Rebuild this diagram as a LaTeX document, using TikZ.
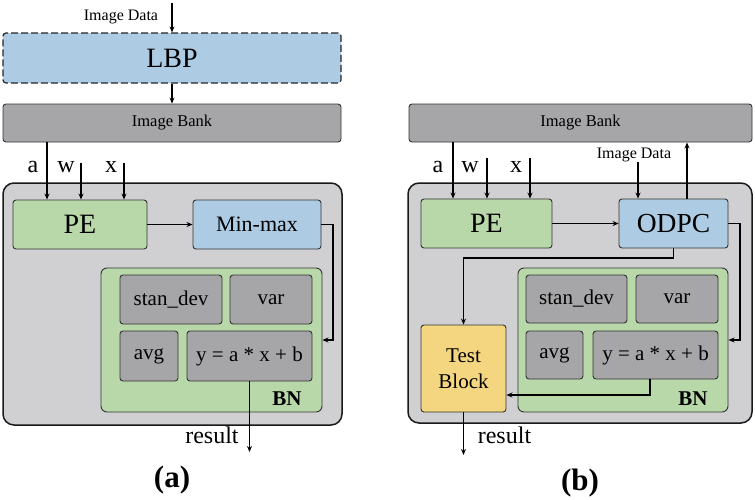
\documentclass[tikz,border=0pt]{standalone}
\usepackage{fontspec}
\setmainfont{Liberation Serif}
\usetikzlibrary{arrows.meta}
\definecolor{cblue}{HTML}{ADCBE3}
\definecolor{cgreen}{HTML}{B8D8A9}
\definecolor{couter}{HTML}{D0D0D2}
\definecolor{cgray}{HTML}{A6A5A7}
\definecolor{cyellow}{HTML}{F4D681}
\definecolor{cline}{HTML}{333333}
\newcommand{\fs}[1]{\fontsize{#1}{#1}\selectfont}
\tikzset{
  box/.style={draw=cline, line width=0.9pt, rounded corners=3pt, inner sep=0pt, align=center},
  outerbox/.style={draw=black!90, fill=couter, line width=1.5pt, rounded corners=11pt, inner sep=0pt},
  arr/.style={line width=1.6pt, -{Stealth[length=6pt,width=5pt]}},
  lbl/.style={inner sep=0pt, anchor=base},
  big/.style={font=\fs{28}},
  mid/.style={font=\fs{21}},
}
\begin{document}
\begin{tikzpicture}[x=1pt,y=-1pt]
\useasboundingbox (0,0) rectangle (755,499);
% ---------------- (a) ----------------
\node[outerbox, minimum width=339pt, minimum height=242pt] (outerA) at (172.5,304) {};
\node[box, fill=cblue, draw=black!85, dashed, dash pattern=on 7pt off 3pt, line width=1.2pt, minimum width=338pt, minimum height=50pt, big] (lbp) at (172,58) {LBP};
\node[box, fill=cgray, minimum width=338pt, minimum height=38pt, font=\fs{16.5}] (bankA) at (172,123) {Image Bank};
\node[box, fill=cgreen, minimum width=134pt, minimum height=49pt, big] (peA) at (80,224.5) {PE};
\node[box, fill=cblue, minimum width=128pt, minimum height=49pt, font=\fs{22}] (mmA) at (257,224.5) {Min-max};
\node[box, fill=cgreen, minimum width=221pt, minimum height=144pt, rounded corners=6pt] (bnA) at (211.5,340) {};
\node[box, fill=cgray, minimum width=102pt, minimum height=49pt, mid] (sdA) at (171,299.5) {stan\_dev};
\node[box, fill=cgray, minimum width=82pt, minimum height=49pt, mid] (varA) at (271,299.5) {var};
\node[box, fill=cgray, minimum width=58pt, minimum height=50pt, mid] (avgA) at (149,356) {avg};
\node[box, fill=cgray, minimum width=125pt, minimum height=50pt, mid] (eqA) at (249.5,356) {y = a * x + b};
\node[lbl, font=\fs{21}\bfseries] (bnlA) at (287,405) {BN};
\node[lbl, font=\fs{16}] (idlA) at (121,20) {Image Data};
\node[lbl, font=\fs{24}] (alA) at (33,172) {a};
\node[lbl, font=\fs{24}] (wlA) at (66,172) {w};
\node[lbl, font=\fs{24}] (xlA) at (111,172) {x};
\node[lbl, font=\fs{24}] (reslA) at (212,443) {result};
\node[lbl, font=\fs{31}\bfseries] (capA) at (172,487) {(a)};
\coordinate (idA) at (172,3);
\coordinate (aA) at (47,0);
\coordinate (wA) at (81,163);
\coordinate (xA) at (124,163);
\coordinate (rA) at (333,0);
\coordinate (resA) at (249.5,452);
\draw[arr] (idA) -- (lbp.north);
\draw[arr] (lbp.south) -- (bankA.north);
\draw[arr] (bankA.south -| aA) -- (peA.north -| aA);
\draw[arr] (wA) -- (peA.north -| wA);
\draw[arr] (xA) -- (peA.north -| xA);
\draw[arr] (peA.east) -- (mmA.west);
\draw[arr] (mmA.east) -- (mmA.east -| rA) |- (bnA.east);
\draw[arr] (eqA.south) -- (resA);
% ---------------- (b) ----------------
\node[outerbox, minimum width=344pt, minimum height=240pt] (outerB) at (580,303) {};
\node[box, fill=cgray, minimum width=343pt, minimum height=38pt, font=\fs{16.5}] (bankB) at (580.5,123) {Image Bank};
\node[box, fill=cgreen, minimum width=131pt, minimum height=49pt, big] (peB) at (486.5,223.5) {PE};
\node[box, fill=cblue, minimum width=109pt, minimum height=49pt, font=\fs{27.5}] (odpc) at (673.5,223.5) {ODPC};
\node[box, fill=cgreen, minimum width=210pt, minimum height=144pt, rounded corners=6pt] (bnB) at (623,340) {};
\node[box, fill=cgray, minimum width=101pt, minimum height=48pt, mid] (sdB) at (576.5,299) {stan\_dev};
\node[box, fill=cgray, minimum width=82pt, minimum height=48pt, mid] (varB) at (677,299) {var};
\node[box, fill=cgray, minimum width=57pt, minimum height=48pt, mid] (avgB) at (554.5,355) {avg};
\node[box, fill=cgray, minimum width=125pt, minimum height=48pt, mid] (eqB) at (655.5,355) {y = a * x + b};
\node[box, fill=cyellow, minimum width=85pt, minimum height=87pt, font=\fontsize{21}{26}\selectfont] (test) at (463.5,368.5) {Test\\Block};
\node[lbl, font=\fs{21}\bfseries] (bnlB) at (693,405) {BN};
\node[lbl, font=\fs{16}] (idlB) at (634,158) {Image Data};
\node[lbl, font=\fs{24}] (alB) at (438,172) {a};
\node[lbl, font=\fs{24}] (wlB) at (470,172) {w};
\node[lbl, font=\fs{24}] (xlB) at (516,172) {x};
\node[lbl, font=\fs{24}] (reslB) at (504.5,443) {result};
\node[lbl, font=\fs{31}\bfseries] (capB) at (580,490) {(b)};
\coordinate (aB) at (453,0);
\coordinate (wB) at (487,158);
\coordinate (xB) at (530,158);
\coordinate (idB) at (638,162);
\coordinate (upB) at (687,0);
\coordinate (rB) at (740,0);
\coordinate (dB) at (0,258);
\coordinate (jB) at (650,395);
\coordinate (resB) at (463.5,455);
\draw[arr] (bankB.south -| aB) -- (peB.north -| aB);
\draw[arr] (wB) -- (peB.north -| wB);
\draw[arr] (xB) -- (peB.north -| xB);
\draw[arr] (idB) -- (odpc.north -| idB);
\draw[arr] (odpc.north -| upB) -- (bankB.south -| upB);
\draw[arr] (peB.east) -- (odpc.west);
\draw[arr] (odpc.east) -- (odpc.east -| rB) |- (bnB.east);
\draw[arr] (odpc.south) -- (odpc.south |- dB) -| (test.north);
\draw[arr] (eqB.south -| jB) -- (jB) -- (test.east |- jB);
\draw[arr] (test.south) -- (resB);
\end{tikzpicture}
\end{document}
